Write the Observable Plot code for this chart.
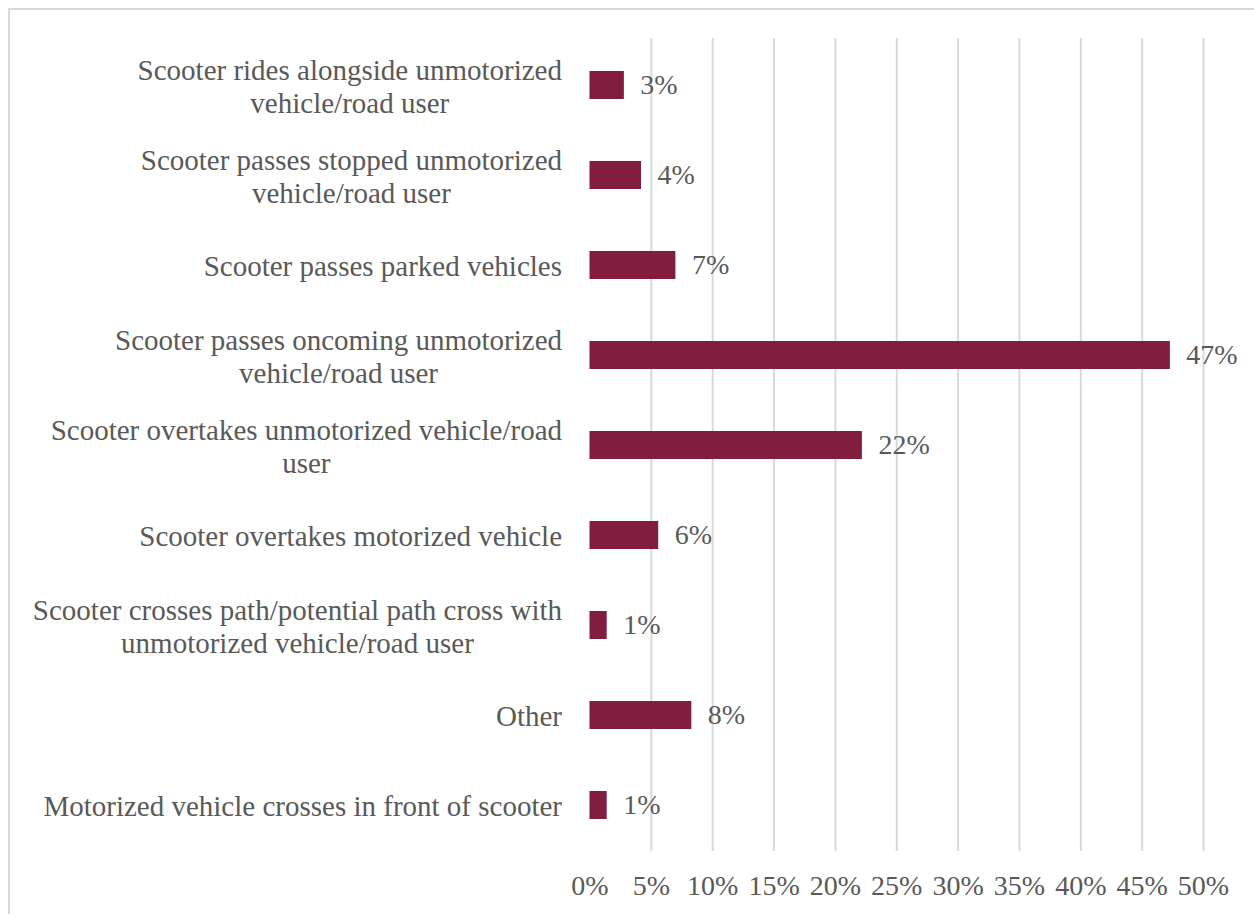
<!DOCTYPE html>
<html>
<head>
<meta charset="utf-8">
<script src="https://cdn.jsdelivr.net/npm/d3@7"></script>
<script src="https://cdn.jsdelivr.net/npm/@observablehq/plot@0.6"></script>
<style>
  html, body { margin: 0; padding: 0; background: #fff; }
  #wrap { position: relative; width: 1254px; height: 914px; overflow: hidden; }
  #border { position: absolute; left: 8px; top: 8px; width: 1300px; height: 1000px; border: 2px solid #d9d9d9; box-sizing: border-box; pointer-events: none; }
</style>
</head>
<body>
<div id="wrap"><div id="border"></div></div>
<script>
const categories = [
  "Scooter rides alongside unmotorized\nvehicle/road user",
  "Scooter passes stopped unmotorized\nvehicle/road user",
  "Scooter passes parked vehicles",
  "Scooter passes oncoming unmotorized\nvehicle/road user",
  "Scooter overtakes unmotorized vehicle/road\nuser",
  "Scooter overtakes motorized vehicle",
  "Scooter crosses path/potential path cross with\nunmotorized vehicle/road user",
  "Other",
  "Motorized vehicle crosses in front of scooter"
];
const values = [0.028, 0.042, 0.070, 0.473, 0.222, 0.056, 0.014, 0.083, 0.014];
const xTicks = [0, 0.05, 0.10, 0.15, 0.20, 0.25, 0.30, 0.35, 0.40, 0.45, 0.50];

const data = categories.map((c, i) => ({category: c, value: values[i]}));
const FONT = "'Liberation Serif', 'Times New Roman', serif";
const FS_CAT = 29;
const FS_VAL = 28;
const textColor = "#595959";
const barColor = "#821d3f";

const ctx = document.createElement("canvas").getContext("2d");
ctx.font = `${FS_CAT}px ${FONT}`;
const blockWidth = s => Math.max(...s.split("\n").map(l => ctx.measureText(l).width));

const labelMarks = data.map(d => Plot.text([d], {
  x: () => 0, y: "category", text: "category",
  textAnchor: "middle", lineAnchor: "middle", lineHeight: 1.14,
  dx: -(28 + blockWidth(d.category) / 2),
  fontSize: FS_CAT, fontFamily: FONT, fill: textColor
}));

const chart = Plot.plot({
  width: 1254, height: 914,
  marginLeft: 589.5, marginRight: 51, marginTop: 38, marginBottom: 63,
  style: {fontFamily: FONT, background: "transparent"},
  x: {domain: [0, 0.5], axis: null},
  y: {domain: categories, paddingInner: 0.69, paddingOuter: 0.345, axis: null},
  marks: [
    Plot.ruleX(xTicks.filter(t => t > 0), {stroke: "#d9d9d9", strokeWidth: 2}),
    Plot.axisX({ticks: xTicks, tickFormat: d3.format(".0%"), tickSize: 0, tickPadding: 24, label: null, fontSize: FS_VAL, fill: textColor, fontFamily: FONT}),
    Plot.barX(data, {x: "value", y: "category", fill: barColor}),
    Plot.text(data, {x: "value", y: "category", text: d => d3.format(".0%")(d.value), textAnchor: "start", dx: 16, fontSize: FS_VAL, fontFamily: FONT, fill: textColor}),
    ...labelMarks
  ]
});
document.getElementById("wrap").prepend(chart);
</script>
</body>
</html>
